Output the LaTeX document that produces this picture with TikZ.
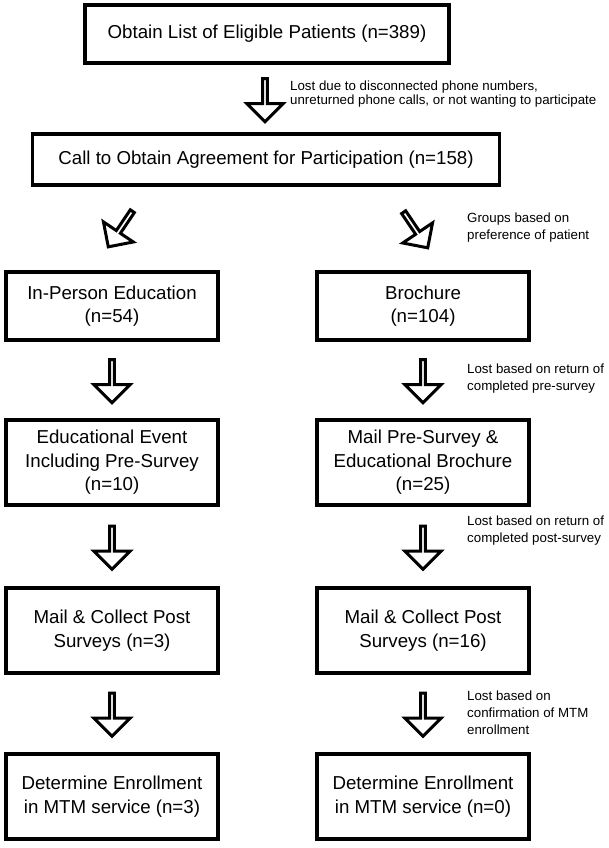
\documentclass[tikz,border=0pt]{standalone}
\usepackage{fontspec}
\setmainfont{Liberation Sans}
\usetikzlibrary{shapes.arrows,calc}
\begin{document}
\begin{tikzpicture}[x=1pt,y=-1pt,
 box/.style={draw, line width=3.2pt, align=center, font=\fontsize{18.7}{23.5}\selectfont, inner sep=0pt},
 blockarrow/.style={single arrow, draw, line width=3pt, minimum width=36pt, single arrow head extend=9.5pt, minimum height=43pt, inner sep=0pt, single arrow tip angle=90},
 note/.style={anchor=west, align=left, font=\fontsize{13.3}{17}\selectfont, inner sep=0pt}]
\useasboundingbox (0,0) rectangle (608,848);

\node[box, minimum width=364pt, minimum height=58pt] (b1) at (267,34) {Obtain List of Eligible Patients (n=389)};
\node[box, minimum width=467pt, minimum height=51pt] (b2) at (266,159.5) {Call to Obtain Agreement for Participation (n=158)};

\node[box, minimum width=212pt, minimum height=68pt] (b3) at (112,306) {In-Person Education\\(n=54)};
\node[box, minimum width=212pt, minimum height=68pt] (b4) at (423,306) {Brochure\\(n=104)};
\node[box, minimum width=212pt, minimum height=85pt] (b5) at (112,462.5) {Educational Event\\Including Pre-Survey\\(n=10)};
\node[box, minimum width=212pt, minimum height=85pt] (b6) at (423,462.5) {Mail Pre-Survey \&\\Educational Brochure\\(n=25)};
\node[box, minimum width=212pt, minimum height=85pt] (b7) at (112,630.5) {Mail \& Collect Post\\Surveys (n=3)};
\node[box, minimum width=212pt, minimum height=85pt] (b8) at (423,630.5) {Mail \& Collect Post\\Surveys (n=16)};
\node[box, minimum width=212pt, minimum height=85pt] (b9) at (112,796.5) {Determine Enrollment\\in MTM service (n=3)};
\node[box, minimum width=212pt, minimum height=85pt] (b10) at (423,796.5) {Determine Enrollment\\in MTM service (n=0)};

\node[blockarrow, rotate=-90] (a1) at (265,99) {};
\node[blockarrow, rotate=-124] (a2) at (121,228) {};
\node[blockarrow, rotate=-56] (a3) at (415,229) {};
\node[blockarrow, rotate=-90] (a4) at ($(b3.south)!0.5!(b5.north)$) {};
\node[blockarrow, rotate=-90] (a5) at ($(b4.south)!0.5!(b6.north)$) {};
\node[blockarrow, rotate=-90] (a6) at ($(b5.south)!0.5!(b7.north)$) {};
\node[blockarrow, rotate=-90] (a7) at ($(b6.south)!0.5!(b8.north)$) {};
\node[blockarrow, rotate=-90] (a8) at ($(b7.south)!0.5!(b9.north)$) {};
\node[blockarrow, rotate=-90] (a9) at ($(b8.south)!0.5!(b10.north)$) {};

\node[note, font=\fontsize{13.3}{14.5}\selectfont] (n1) at (290,94) {Lost due to disconnected phone numbers,\\unreturned phone calls, or not wanting to participate};
\node[note] (n2) at (467,228) {Groups based on\\preference of patient};
\node[note] (n3) at (467,379) {Lost based on return of\\completed pre-survey};
\node[note] (n4) at (467,531) {Lost based on return of\\completed post-survey};
\node[note] (n5) at (467,713) {Lost based on\\confirmation of MTM\\enrollment};
\end{tikzpicture}
\end{document}
